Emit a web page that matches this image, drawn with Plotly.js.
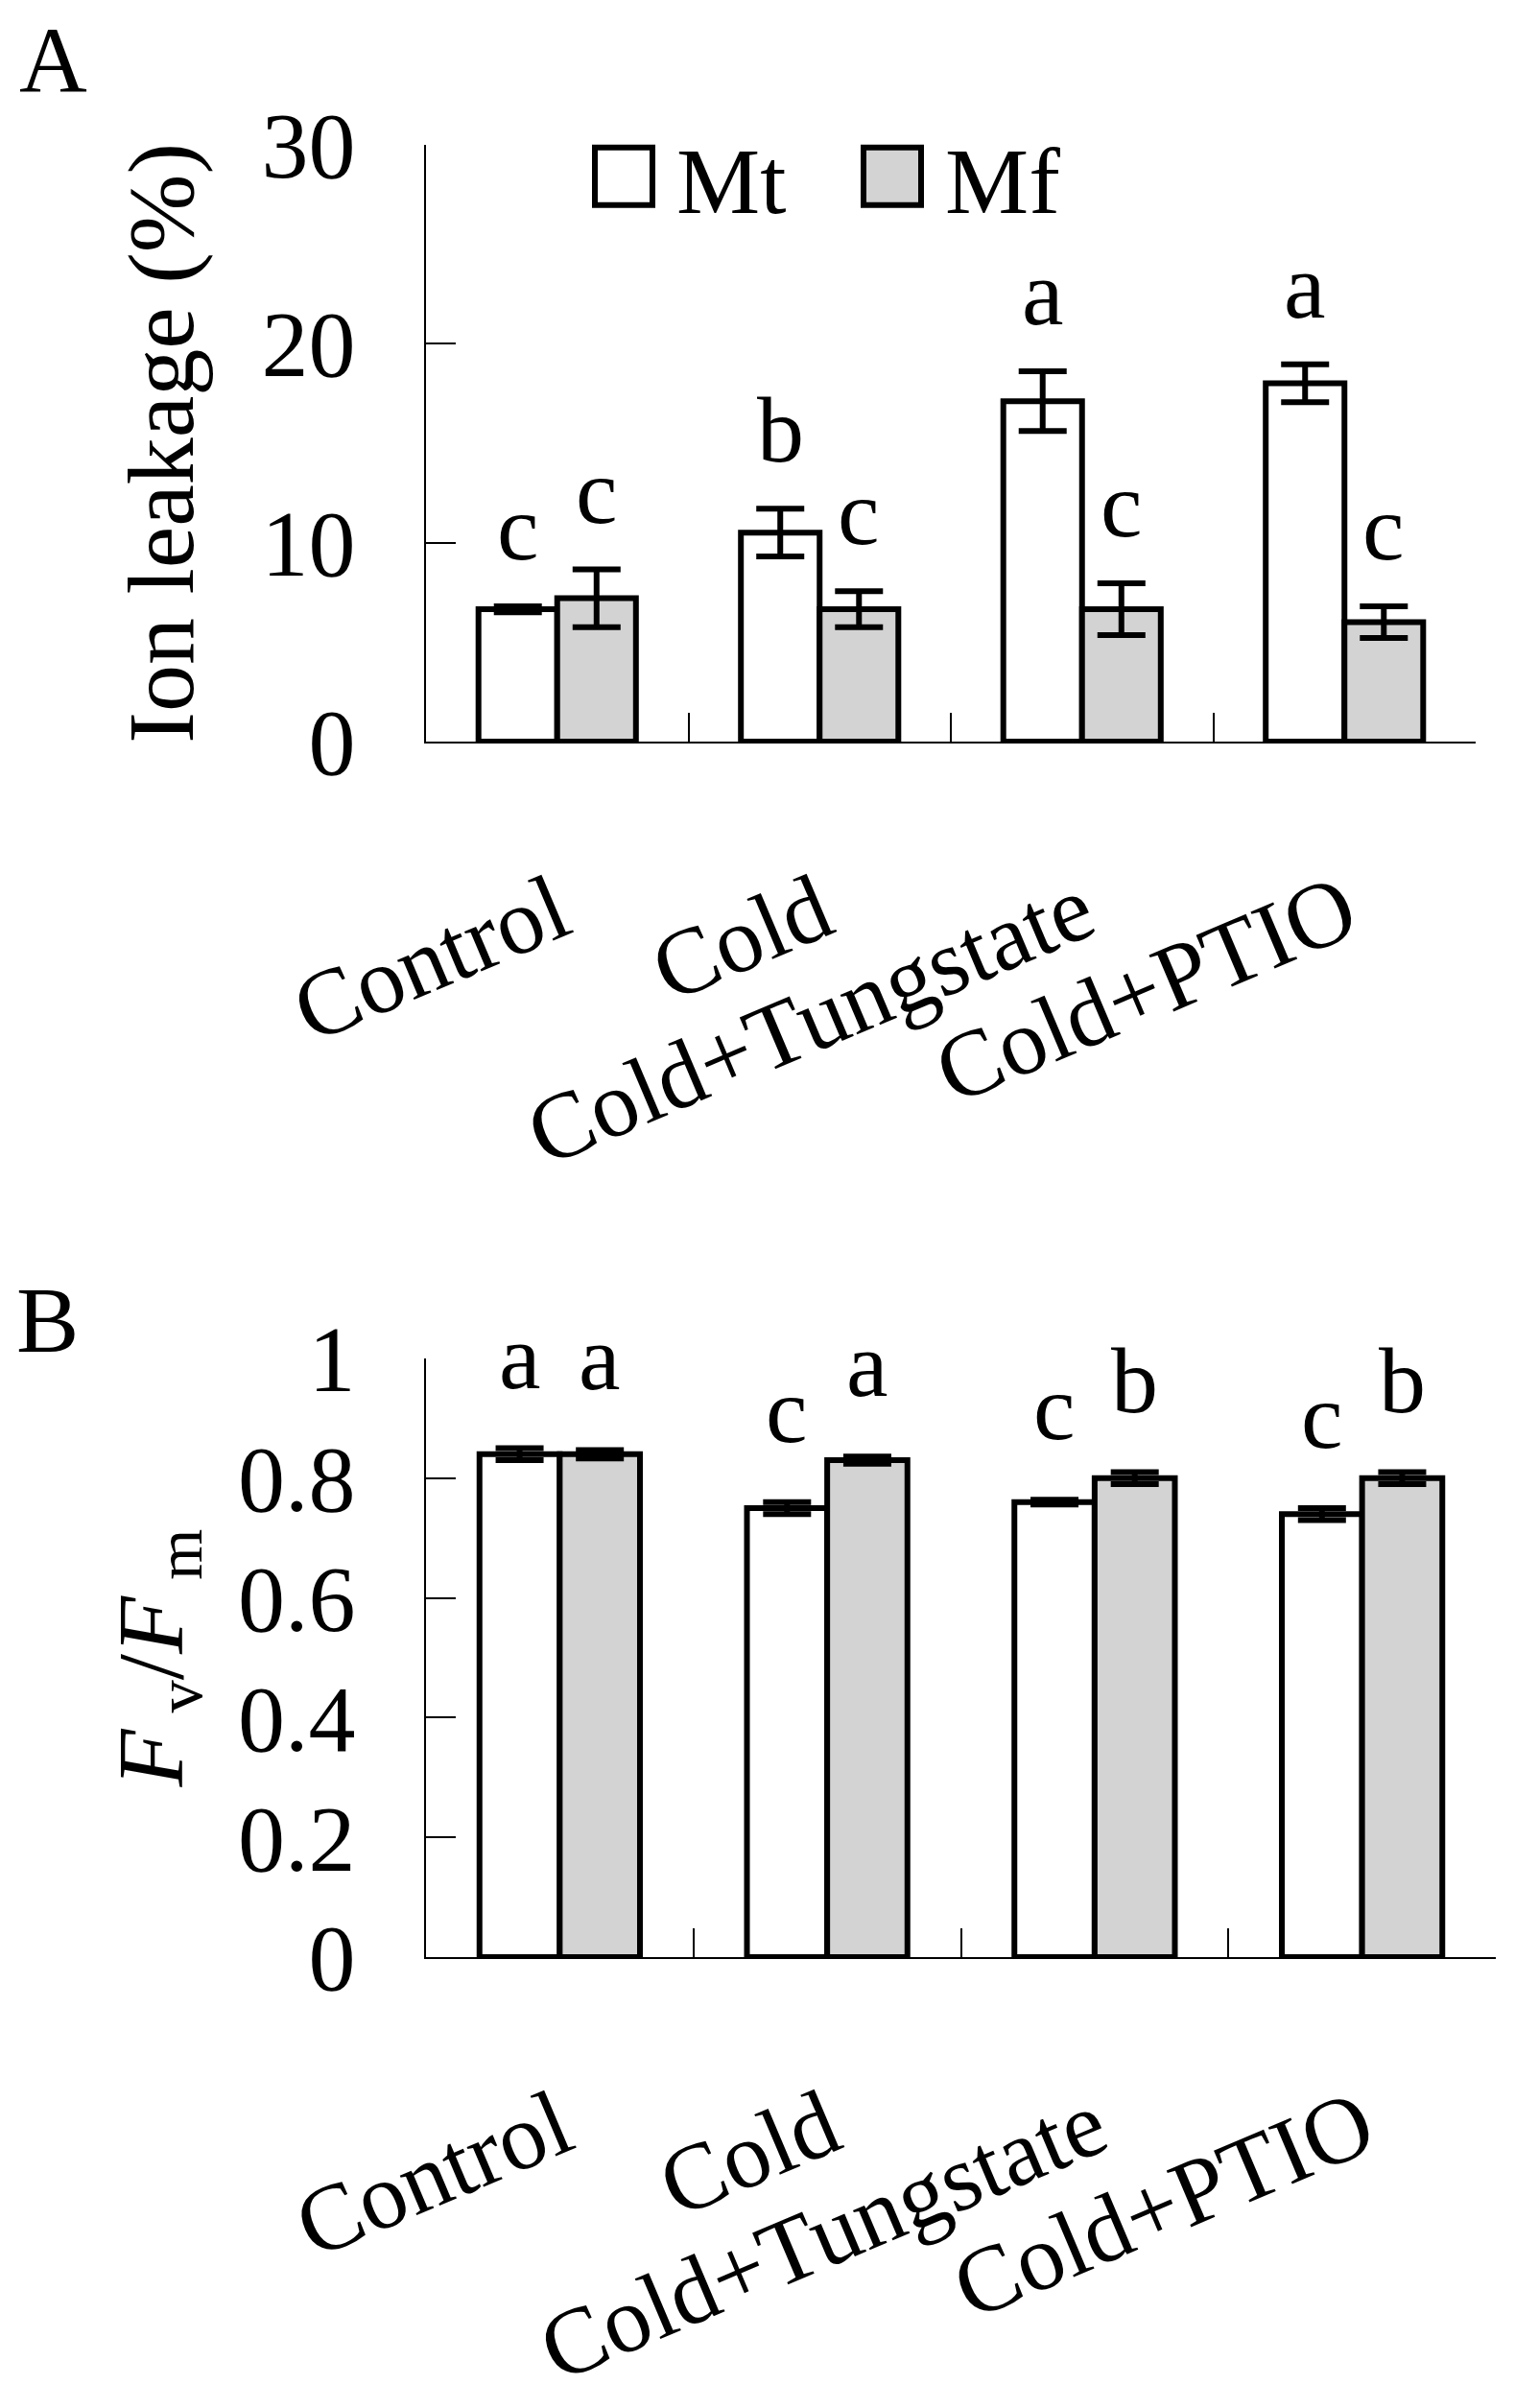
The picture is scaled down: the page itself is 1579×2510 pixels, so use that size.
<!DOCTYPE html>
<html>
<head>
<meta charset="utf-8">
<script src="https://cdn.plot.ly/plotly-3.0.1.min.js"></script>
<style>
  html, body { margin: 0; padding: 0; background: #fff; }
  #chart { width: 1579px; height: 2510px; }
</style>
</head>
<body>
<div id="chart"></div>
<script>
// treatments on the x axis (both panels)
var categories = ['Control', 'Cold', 'Cold+Tungstate', 'Cold+PTIO'];

// panel A: ion leakage (%)
var leakMt = [6.65, 10.5, 17.1, 18.0];
var leakMtErr = [0.15, 1.2, 1.5, 0.95];
var leakMf = [7.2, 6.65, 6.65, 6.0];
var leakMfErr = [1.45, 0.9, 1.3, 0.8];
var leakMtLetters = ['c', 'b', 'a', 'a'];
var leakMfLetters = ['c', 'c', 'c', 'c'];

// panel B: Fv/Fm
var fvfmMt = [0.84, 0.75, 0.76, 0.74];
var fvfmMtErr = [0.01, 0.01, 0.004, 0.01];
var fvfmMf = [0.84, 0.83, 0.80, 0.80];
var fvfmMfErr = [0.007, 0.006, 0.01, 0.01];
var fvfmMtLetters = ['a', 'c', 'c', 'c'];
var fvfmMfLetters = ['a', 'a', 'b', 'b'];

var FONT = 'Liberation Serif, Times New Roman, serif';
var W = 1579, H = 2510;

function barTrace(name, y, err, fill, xa, ya, legend) {
    return {
        type: 'bar',
        name: name,
        x: categories,
        y: y,
        xaxis: xa,
        yaxis: ya,
        showlegend: legend,
        marker: {color: fill, line: {color: 'black', width: 6}},
        error_y: {type: 'data', array: err, visible: true, color: 'black', thickness: 6, width: 25}
    };
}

var data = [
    barTrace('Mt', leakMt, leakMtErr, 'white', 'x', 'y', true),
    barTrace('Mf', leakMf, leakMfErr, 'rgb(211,211,211)', 'x', 'y', true),
    barTrace('Mt', fvfmMt, fvfmMtErr, 'white', 'x2', 'y2', false),
    barTrace('Mf', fvfmMf, fvfmMfErr, 'rgb(211,211,211)', 'x2', 'y2', false)
];

// significance letters above each error bar
var annotations = [];
function addLetters(vals, errs, letters, offset, xa, ya, shift) {
    for (var i = 0; i < categories.length; i++) {
        annotations.push({
            x: i + offset, y: vals[i] + errs[i], xref: xa, yref: ya,
            text: letters[i], showarrow: false, yanchor: 'bottom', yshift: shift,
            font: {family: FONT, size: 98, color: 'black'}
        });
    }
}
addLetters(leakMt, leakMtErr, leakMtLetters, -0.15, 'x', 'y', 26);
addLetters(leakMf, leakMfErr, leakMfLetters, 0.15, 'x', 'y', 26);
addLetters(fvfmMt, fvfmMtErr, fvfmMtLetters, -0.15, 'x2', 'y2', 40);
addLetters(fvfmMf, fvfmMfErr, fvfmMfLetters, 0.15, 'x2', 'y2', 40);

// panel letters
annotations.push({text: 'A', xref: 'paper', yref: 'paper', x: 18 / W, y: 1 - 62 / H,
    xanchor: 'left', yanchor: 'middle', showarrow: false, font: {family: FONT, size: 98, color: 'black'}});
annotations.push({text: 'B', xref: 'paper', yref: 'paper', x: 15 / W, y: 1 - 1376 / H,
    xanchor: 'left', yanchor: 'middle', showarrow: false, font: {family: FONT, size: 98, color: 'black'}});

var xCommon = {
    type: 'category',
    showline: true, linecolor: 'black', linewidth: 2,
    ticks: 'inside', tickson: 'boundaries', ticklen: 30, tickwidth: 2, tickcolor: 'black',
    tickangle: -23,
    tickfont: {family: FONT, size: 98, color: 'black'},
    showgrid: false, zeroline: false
};
var yCommon = {
    showline: true, linecolor: 'black', linewidth: 2,
    ticks: 'inside', ticklen: 31, tickwidth: 2, tickcolor: 'black',
    ticklabelstandoff: 52,
    tickfont: {family: FONT, size: 98, color: 'black'},
    showgrid: false, zeroline: false
};

var layout = {
    width: W,
    height: H,
    margin: {l: 0, r: 0, t: 0, b: 0},
    paper_bgcolor: 'white',
    plot_bgcolor: 'white',
    barmode: 'group',
    bargap: 0.4,
    bargroupgap: 0,
    font: {family: FONT, size: 98, color: 'black'},
    showlegend: true,
    legend: {
        orientation: 'h', x: 595 / W, y: 1 - 184 / H, xanchor: 'left', yanchor: 'middle',
        font: {family: FONT, size: 98, color: 'black'},
        itemwidth: 100, entrywidth: 165, entrywidthmode: 'pixels',
        bgcolor: 'rgba(0,0,0,0)', traceorder: 'normal'
    },
    xaxis: Object.assign({}, xCommon, {domain: [444 / W, 1538 / W], anchor: 'y', ticklabelstandoff: 82}),
    yaxis: Object.assign({}, yCommon, {
        domain: [1 - 773 / H, 1 - 150.5 / H], anchor: 'x', range: [0, 30],
        tickvals: [0, 10, 20, 30],
        title: {text: 'Ion leakage (%)', standoff: 38, font: {family: FONT, size: 98, color: 'black'}}
    }),
    xaxis2: Object.assign({}, xCommon, {domain: [444 / W, 1559 / W], anchor: 'y2', ticklabelstandoff: 82}),
    yaxis2: Object.assign({}, yCommon, {
        domain: [1 - 2040 / H, 1 - 1416 / H], anchor: 'x2', range: [0, 1],
        tickvals: [0, 0.2, 0.4, 0.6, 0.8, 1],
        ticktext: ['0', '0.2', '0.4', '0.6', '0.8', '1'],
        title: {text: '<i>F</i><sub> v</sub>/<i>F</i><sub> m</sub>', standoff: 25,
            font: {family: FONT, size: 98, color: 'black'}}
    }),
    annotations: annotations
};

var config = {staticPlot: true, displayModeBar: false};
Plotly.newPlot(document.getElementById('chart'), data, layout, config).then(function (gd) {
    // legend boxes are much bigger in the original than plotly's 12px swatch
    gd.querySelectorAll('.legend .legendpoints path').forEach(function (p) {
        var t = p.getAttribute('transform') || '';
        p.setAttribute('transform', t + ' scale(5)');
        p.style.strokeWidth = (6 / 5) + 'px';
    });
});
</script>
</body>
</html>
